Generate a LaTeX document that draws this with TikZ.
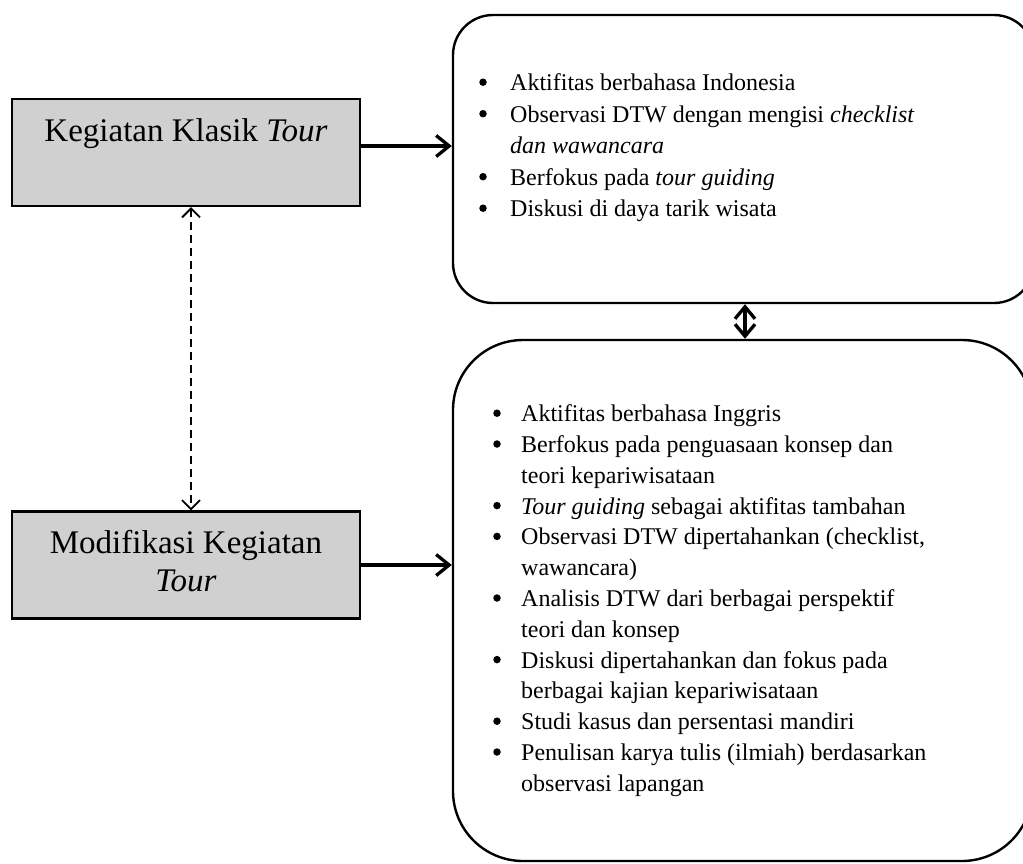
\documentclass[tikz,border=0pt]{standalone}
\usepackage{fontspec}
\setmainfont{Liberation Serif}
\usetikzlibrary{arrows.meta}
\definecolor{boxgray}{RGB}{208,208,208}
\tikzset{
  leftbox/.style={draw=black, fill=boxgray, line width=2.4pt, minimum width=348pt, minimum height=107pt, inner sep=0pt},
  roundbox/.style={draw=black, line width=2.4pt, inner sep=0pt},
  bigtext/.style={font=\fontsize{33}{38}\selectfont, inner sep=0pt, anchor=base},
  itemtext/.style={font=\fontsize{24}{31}\selectfont, inner sep=0pt, anchor=base west},
  bul/.style={circle, fill=black, inner sep=0pt, minimum size=7.5pt, yshift=8.5pt},
  thickarrow/.style={line width=3.3pt, -{Straight Barb[length=13pt,width=21pt,line width=3.3pt]}},
  dblarrow/.style={line width=3.3pt, {Straight Barb[length=12pt,width=20pt,line width=3.3pt]}-{Straight Barb[length=12pt,width=20pt,line width=3.3pt]}},
  dasharrow/.style={line width=1.8pt, dash pattern=on 8pt off 5pt, {Straight Barb[length=9pt,width=18pt,line width=1.8pt]}-{Straight Barb[length=9pt,width=18pt,line width=1.8pt]}}
}
\begin{document}
\begin{tikzpicture}[x=1pt,y=-1pt]
\useasboundingbox (0,0) rectangle (1023,863);
\clip (0,0) rectangle (1023,863);

% left boxes
\node[leftbox] (kls) at (186,152.5) {};
\node[bigtext] (klst) at (186,141.7) {Kegiatan Klasik \textit{Tour}};
\node[leftbox] (mod) at (186,565) {};
\node[bigtext] (modt1) at (186,553.3) {Modifikasi Kegiatan};
\node[bigtext] (modt2) at (186,591.7) {\textit{Tour}};

% right boxes
\node[roundbox, rounded corners=40pt, minimum width=581pt, minimum height=288pt] (rt) at (743.5,159) {};
\node[roundbox, rounded corners=70pt, minimum width=579pt, minimum height=521pt] (rb) at (742.5,600.5) {};

% top box items
\node[bul] (tb1) at (483,90.7) {};
\node[itemtext] (tt1) at (510,90.7) {Aktifitas berbahasa Indonesia};
\node[bul] (tb2) at (483,122.2) {};
\node[itemtext] (tt2) at (510,122.2) {Observasi DTW dengan mengisi \textit{checklist}};
\node[itemtext] (tt3) at (510,153.7) {\textit{dan wawancara}};
\node[bul] (tb4) at (483,185.2) {};
\node[itemtext] (tt4) at (510,185.2) {Berfokus pada \textit{tour guiding}};
\node[bul] (tb5) at (483,216.7) {};
\node[itemtext] (tt5) at (510,216.7) {Diskusi di daya tarik wisata};

% bottom box items
\node[bul] (bb1) at (497,421.7) {};
\node[itemtext] (bt1) at (521,421.7) {Aktifitas berbahasa Inggris};
\node[bul] (bb2) at (497,452.5) {};
\node[itemtext] (bt2) at (521,452.5) {Berfokus pada penguasaan konsep dan};
\node[itemtext] (bt3) at (521,483.3) {teori kepariwisataan};
\node[bul] (bb4) at (497,514.1) {};
\node[itemtext] (bt4) at (521,514.1) {\textit{Tour guiding} sebagai aktifitas tambahan};
\node[bul] (bb5) at (497,544.9) {};
\node[itemtext] (bt5) at (521,544.9) {Observasi DTW dipertahankan (checklist,};
\node[itemtext] (bt6) at (521,575.7) {wawancara)};
\node[bul] (bb7) at (497,606.5) {};
\node[itemtext] (bt7) at (521,606.5) {Analisis DTW dari berbagai perspektif};
\node[itemtext] (bt8) at (521,637.3) {teori dan konsep};
\node[bul] (bb9) at (497,668.1) {};
\node[itemtext] (bt9) at (521,668.1) {Diskusi dipertahankan dan fokus pada};
\node[itemtext] (bt10) at (521,698.9) {berbagai kajian kepariwisataan};
\node[bul] (bb11) at (497,729.7) {};
\node[itemtext] (bt11) at (521,729.7) {Studi kasus dan persentasi mandiri};
\node[bul] (bb12) at (497,760.5) {};
\node[itemtext] (bt12) at (521,760.5) {Penulisan karya tulis (ilmiah) berdasarkan};
\node[itemtext] (bt13) at (521,791.3) {observasi lapangan};

% connectors
\draw[thickarrow] (kls.east |- 0,146) -- (rt.west |- 0,146);
\draw[thickarrow] (mod.east) -- (mod.east -| rb.west);
\draw[dasharrow] ([xshift=5pt]kls.south) -- ([xshift=5pt]mod.north);
\draw[dblarrow] (745,0 |- rt.south) -- (745,0 |- rb.north);
\end{tikzpicture}
\end{document}
